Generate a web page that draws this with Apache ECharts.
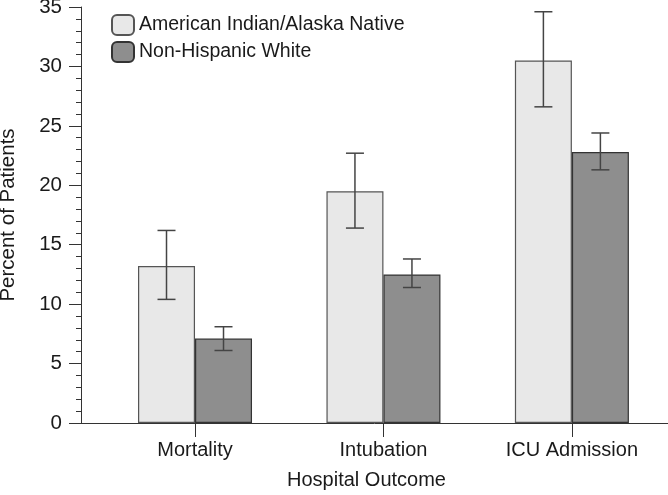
<!DOCTYPE html>
<html>
<head>
<meta charset="utf-8">
<script src="https://cdn.jsdelivr.net/npm/echarts@6/dist/echarts.min.js"></script>
<style>
html,body{margin:0;padding:0;background:#fff;}
#chart{width:668px;height:495px;}
</style>
</head>
<body>
<div id="chart"></div>
<script>
const categories = ['Mortality', 'Intubation', 'ICU Admission'];
const seriesNames = ['American Indian/Alaska Native', 'Non-Hispanic White'];
const aianValues = [13.2, 19.5, 30.5];
const aianLow = [10.4, 16.4, 26.6];
const aianHigh = [16.2, 22.7, 34.6];
const nhwValues = [7.1, 12.5, 22.8];
const nhwLow = [6.1, 11.4, 21.3];
const nhwHigh = [8.1, 13.8, 24.4];
const yTicks = [0, 5, 10, 15, 20, 25, 30, 35];

const BAR_W = 57;
const FONT = '"Liberation Sans", Arial, Helvetica, sans-serif';
const TXT = '#1a1a1a';

const chart = echarts.init(document.getElementById('chart'));

function errSeries(low, high, sign) {
  return {
    type: 'custom',
    silent: true,
    z: 5,
    data: categories.map((c, i) => [i, low[i], high[i]]),
    encode: { x: 0, y: [1, 2] },
    renderItem: function (params, api) {
      const a = api.coord([api.value(0), api.value(1)]);
      const b = api.coord([api.value(0), api.value(2)]);
      const x = a[0] + sign * BAR_W / 2;
      const cap = 9;
      const st = { stroke: '#444', lineWidth: 1.5 };
      return {
        type: 'group',
        children: [
          { type: 'line', shape: { x1: x, y1: a[1], x2: x, y2: b[1] }, style: st },
          { type: 'line', shape: { x1: x - cap, y1: a[1], x2: x + cap, y2: a[1] }, style: st },
          { type: 'line', shape: { x1: x - cap, y1: b[1], x2: x + cap, y2: b[1] }, style: st }
        ]
      };
    }
  };
}

chart.setOption({
  animation: false,
  backgroundColor: '#fff',
  textStyle: { fontFamily: FONT },
  grid: { left: 81, right: 0, top: 7, bottom: 72, containLabel: false, outerBoundsMode: 'none' },
  legend: {
    left: 106, top: 9, orient: 'vertical',
    itemWidth: 22, itemHeight: 20, itemGap: 5,
    icon: 'roundRect',
    data: seriesNames,
    textStyle: { fontSize: 19.5, color: TXT, fontFamily: FONT }
  },
  xAxis: {
    type: 'value',
    min: -0.605, max: 2.51,
    splitLine: { show: false },
    axisLine: { show: true, onZero: false, lineStyle: { color: '#333', width: 1 } },
    axisTick: { show: true, customValues: [0, 1, 2], length: 14, lineStyle: { color: '#333' } },
    axisLabel: {
      customValues: [0, 1, 2],
      formatter: v => categories[Math.round(v)],
      fontSize: 20, color: TXT, margin: 17, fontFamily: FONT
    },
    name: 'Hospital Outcome',
    nameLocation: 'middle',
    nameGap: 47,
    nameTextStyle: { fontSize: 20, color: TXT, fontFamily: FONT, padding: [0, 16, 0, 0] }
  },
  yAxis: {
    type: 'value',
    min: 0, max: 35, interval: 5,
    splitLine: { show: false },
    axisLine: { show: true, onZero: false, lineStyle: { color: '#333', width: 1 } },
    axisTick: { show: true, length: 12, lineStyle: { color: '#333' } },
    minorTick: { show: true, splitNumber: 5, length: 5, lineStyle: { color: '#333' } },
    minorSplitLine: { show: false },
    axisLabel: {
      fontSize: 20.5, color: TXT, margin: 19, fontFamily: FONT,
      formatter: v => yTicks.includes(v) ? String(v) : ''
    },
    name: 'Percent of Patients',
    nameLocation: 'middle',
    nameGap: 62,
    nameTextStyle: { fontSize: 20.5, color: TXT, fontFamily: FONT }
  },
  series: [
    {
      name: seriesNames[0], type: 'bar', barWidth: BAR_W, barGap: '0%',
      data: categories.map((c, i) => [i, aianValues[i]]),
      itemStyle: { color: '#e8e8e8', borderColor: '#555', borderWidth: 1.2 }
    },
    {
      name: seriesNames[1], type: 'bar', barWidth: BAR_W, barGap: '0%',
      data: categories.map((c, i) => [i, nhwValues[i]]),
      itemStyle: { color: '#8e8e8e', borderColor: '#333', borderWidth: 1.2 }
    },
    errSeries(aianLow, aianHigh, -1),
    errSeries(nhwLow, nhwHigh, 1)
  ]
});
</script>
</body>
</html>
